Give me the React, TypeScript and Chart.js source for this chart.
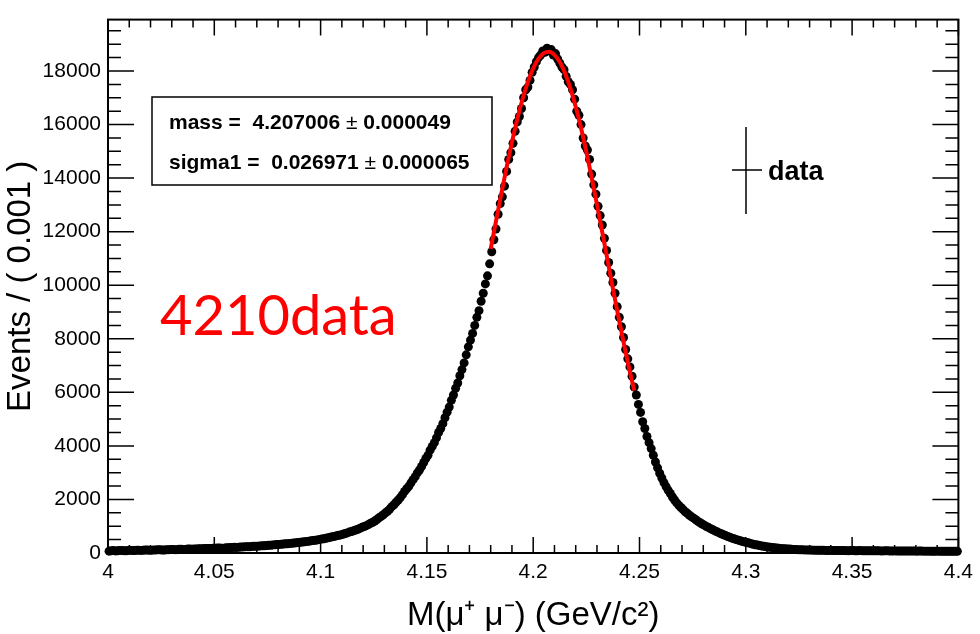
import React, { useEffect, useRef } from "react";
import { Chart, registerables } from "chart.js";

Chart.register(...registerables);

// ---- data (bin width 0.001, bin centres from 4.0005) ----
const BIN_START = 4.0005;
const BIN_WIDTH = 0.001;
const eventCounts = [
  70, 85, 90, 78, 80, 92, 95, 88, 85, 96,
  100, 92, 90, 101, 105, 98, 100, 108, 110, 104,
  105, 112, 115, 121, 120, 112, 110, 120, 125, 131,
  130, 124, 125, 136, 140, 133, 135, 146, 150, 142,
  145, 154, 155, 161, 160, 166, 165, 172, 170, 176,
  175, 184, 185, 178, 180, 192, 195, 203, 205, 212,
  210, 213, 220, 228, 230, 236, 235, 246, 250, 249,
  255, 266, 270, 272, 280, 288, 290, 301, 305, 315,
  320, 326, 335, 343, 345, 358, 365, 370, 380, 394,
  400, 408, 420, 433, 440, 455, 465, 475, 490, 508,
  520, 530, 550, 570, 585, 605, 620, 642, 660, 676,
  700, 728, 750, 780, 800, 832, 860, 885, 920, 958,
  990, 1020, 1060, 1110, 1150, 1195, 1250, 1315, 1370, 1430,
  1500, 1560, 1640, 1730, 1800, 1895, 1980, 2070, 2180, 2300,
  2400, 2490, 2620, 2740, 2850, 2990, 3100, 3230, 3380, 3530,
  3650, 3840, 3980, 4120, 4300, 4500, 4650, 4830, 5050, 5260,
  5450, 5700, 5900, 6150, 6350, 6620, 6850, 7100, 7400, 7700,
  7950, 8200, 8500, 8800, 9050, 9400, 9700, 10050, 10350, 10800,
  11250, 11700, 12100, 12650, 13050, 13300, 13700, 14250, 14700, 14950,
  15300, 15750, 16100, 16300, 16600, 17000, 17300, 17400, 17650, 17950,
  18150, 18350, 18500, 18600, 18750, 18700, 18850, 18750, 18800, 18600,
  18650, 18450, 18300, 18150, 18050, 17800, 17600, 17500, 17300, 16950,
  16500, 16350, 16000, 15500, 15200, 15050, 14700, 14150, 13750, 13400,
  12950, 12600, 12250, 11750, 11300, 10850, 10450, 10100, 9700, 9200,
  8800, 8450, 8050, 7600, 7250, 6950, 6600, 6200, 5900, 5550,
  5250, 4900, 4650, 4350, 4120, 3900, 3650, 3400, 3180, 2980,
  2800, 2630, 2480, 2340, 2220, 2090, 1980, 1870, 1780, 1700,
  1620, 1540, 1480, 1410, 1350, 1300, 1240, 1180, 1130, 1085,
  1040, 990, 950, 905, 870, 825, 790, 750, 720, 680,
  650, 615, 590, 555, 530, 500, 480, 455, 430, 410,
  390, 372, 350, 328, 310, 296, 280, 262, 250, 236,
  225, 214, 205, 196, 185, 178, 170, 160, 155, 150,
  145, 138, 135, 130, 125, 122, 120, 116, 115, 112,
  110, 106, 105, 101, 100, 103, 100, 96, 95, 97,
  98, 94, 92, 96, 95, 90, 90, 87, 88, 91,
  90, 86, 85, 89, 88, 84, 82, 86, 85, 81,
  80, 82, 83, 79, 78, 81, 80, 77, 76, 79,
  78, 75, 74, 76, 75, 72, 72, 74, 74, 71,
  70, 71, 72, 69, 68, 70, 70, 67, 66, 69,
  68, 66, 65, 67, 66, 64, 63, 65, 64, 62,
];

const FIT_START = 4.18;
const FIT_STEP = 0.0025;
const fitValues = [
  11354, 12391, 13413, 14414, 15347, 16200, 16956, 17595, 18100, 18461,
  18669, 18717, 18604, 18334, 17914, 17354, 16667, 15871, 14980, 14023,
  13012, 11973, 10924, 9877, 8855, 7872, 6937, 6063,
];

const X_MIN = 4.0;
const X_MAX = 4.4;
const Y_MIN = 0;
const Y_MAX = 19920;
const xMajorTicks = [4, 4.05, 4.1, 4.15, 4.2, 4.25, 4.3, 4.35, 4.4];
const xTickLabels = ["4", "4.05", "4.1", "4.15", "4.2", "4.25", "4.3", "4.35", "4.4"];
const yMajorTicks = [0, 2000, 4000, 6000, 8000, 10000, 12000, 14000, 16000, 18000];
const yTickLabels = ["0", "2000", "4000", "6000", "8000", "10000", "12000", "14000", "16000", "18000"];
const X_MINOR_STEP = 0.01;
const X_MINOR_PER_MAJOR = 5;
const Y_MINOR_STEP = 500;
const Y_MINOR_PER_MAJOR = 4;

const xTitle = "M(μ⁺ μ⁻) (GeV/c²)";
const yTitle = "Events / ( 0.001 )";
const statLines = ["mass =  4.207006 ± 0.000049", "sigma1 =  0.026971 ± 0.000065"];
const legendLabel = "data";
const overlayText = "4210data";

const FONT = "'Liberation Sans', Arial, Helvetica, sans-serif";

function drawStatLine(ctx: CanvasRenderingContext2D, text: string, x: number, y: number) {
  // bold text, with the ± sign in regular weight (as ROOT draws #pm)
  const parts = text.split("±");
  let cx = x;
  parts.forEach((part, i) => {
    if (i > 0) {
      ctx.font = `21px ${FONT}`;
      ctx.fillText("±", cx, y);
      cx += ctx.measureText("±").width;
    }
    ctx.font = `bold 21px ${FONT}`;
    ctx.fillText(part, cx, y);
    cx += ctx.measureText(part).width;
  });
}

const rootDecor = {
  id: "rootDecor",
  afterDraw(chart: any) {
    const { ctx, chartArea: a, scales } = chart;
    const xs = scales.x;
    const ys = scales.y;
    ctx.save();
    ctx.strokeStyle = "#000";
    ctx.fillStyle = "#000";

    // tick marks on all four sides (ROOT style, pointing inward)
    ctx.lineWidth = 1.5;
    ctx.beginPath();
    const nx = Math.round((X_MAX - X_MIN) / X_MINOR_STEP);
    for (let i = 0; i <= nx; i++) {
      const px = xs.getPixelForValue(X_MIN + i * X_MINOR_STEP);
      const len = i % X_MINOR_PER_MAJOR === 0 ? 16 : 8;
      ctx.moveTo(px, a.bottom);
      ctx.lineTo(px, a.bottom - len);
      ctx.moveTo(px, a.top);
      ctx.lineTo(px, a.top + len);
    }
    for (let i = 0; i * Y_MINOR_STEP <= Y_MAX; i++) {
      const py = ys.getPixelForValue(i * Y_MINOR_STEP);
      const len = i % Y_MINOR_PER_MAJOR === 0 ? 26 : 13;
      ctx.moveTo(a.left, py);
      ctx.lineTo(a.left + len, py);
      ctx.moveTo(a.right, py);
      ctx.lineTo(a.right - len, py);
    }
    ctx.stroke();

    // frame
    ctx.lineWidth = 2;
    ctx.strokeRect(a.left, a.top, a.right - a.left, a.bottom - a.top);

    // fit parameter box
    ctx.lineWidth = 1.5;
    ctx.strokeRect(152, 97, 340, 88);
    ctx.textAlign = "left";
    ctx.textBaseline = "alphabetic";
    drawStatLine(ctx, statLines[0], 169, 129);
    drawStatLine(ctx, statLines[1], 169, 169);

    // legend entry
    ctx.lineWidth = 1.5;
    ctx.beginPath();
    ctx.moveTo(746, 127);
    ctx.lineTo(746, 214);
    ctx.moveTo(732, 170);
    ctx.lineTo(762, 170);
    ctx.stroke();
    ctx.font = `bold 27px ${FONT}`;
    ctx.fillText(legendLabel, 768, 180);

    // red overlay label
    ctx.fillStyle = "#ff0000";
    ctx.font = `56px Lato, 'Open Sans', sans-serif`;
    ctx.fillText(overlayText, 160, 335);
    ctx.restore();
  },
};

export default function App() {
  const ref = useRef<HTMLCanvasElement>(null);

  useEffect(() => {
    document.body.style.margin = "0";
    const canvas = ref.current;
    if (!canvas) return;

    const dataPoints = eventCounts.map((v, i) => ({ x: BIN_START + i * BIN_WIDTH, y: v }));
    const fitPoints = fitValues.map((v, i) => ({ x: FIT_START + i * FIT_STEP, y: v }));

    const chart = new Chart(canvas, {
      type: "scatter",
      data: {
        datasets: [
          {
            type: "line",
            label: "fit",
            data: fitPoints,
            order: 0,
            borderColor: "#ff0000",
            borderWidth: 4,
            pointRadius: 0,
            showLine: true,
            fill: false,
            cubicInterpolationMode: "monotone",
          } as any,
          {
            type: "scatter",
            label: legendLabel,
            data: dataPoints,
            order: 1,
            pointRadius: 4.5,
            pointHoverRadius: 4.5,
            pointBackgroundColor: "#000",
            pointBorderWidth: 0,
            showLine: false,
            clip: false,
          } as any,
        ],
      },
      options: {
        animation: false,
        responsive: false,
        devicePixelRatio: 1,
        layout: { padding: { top: 8, right: 18, left: 0, bottom: 0 } },
        plugins: {
          legend: { display: false },
          tooltip: { enabled: false },
        },
        events: [],
        scales: {
          x: {
            type: "linear",
            min: X_MIN,
            max: X_MAX,
            grid: { display: false, drawTicks: false },
            border: { display: false },
            afterBuildTicks: (s: any) => {
              s.ticks = xMajorTicks.map((v) => ({ value: v }));
            },
            afterFit: (s: any) => {
              s.height = 81;
            },
            ticks: {
              autoSkip: false,
              maxRotation: 0,
              padding: 7,
              color: "#000",
              font: { family: FONT, size: 21 },
              callback: (v: any) => {
                const i = xMajorTicks.findIndex((t) => Math.abs(t - Number(v)) < 1e-9);
                return i >= 0 ? xTickLabels[i] : "";
              },
            },
            title: {
              display: true,
              text: xTitle,
              color: "#000",
              font: { family: FONT, size: 33, lineHeight: 1 },
              padding: { top: 0, bottom: 2 },
            },
          },
          y: {
            type: "linear",
            min: Y_MIN,
            max: Y_MAX,
            grid: { display: false, drawTicks: false },
            border: { display: false },
            afterBuildTicks: (s: any) => {
              s.ticks = yMajorTicks.map((v) => ({ value: v }));
            },
            afterFit: (s: any) => {
              s.width = 108;
            },
            ticks: {
              autoSkip: false,
              padding: 7,
              color: "#000",
              font: { family: FONT, size: 21 },
              callback: (v: any) => {
                const i = yMajorTicks.findIndex((t) => Math.abs(t - Number(v)) < 1e-9);
                return i >= 0 ? yTickLabels[i] : "";
              },
            },
            title: {
              display: true,
              text: yTitle,
              color: "#000",
              font: { family: FONT, size: 33, lineHeight: 1 },
              padding: { top: 4, bottom: 0 },
            },
          },
        },
      },
      plugins: [rootDecor],
    } as any);

    return () => chart.destroy();
  }, []);

  return (
    <canvas
      ref={ref}
      width={980}
      height={634}
      style={{ display: "block", width: 980, height: 634 }}
    />
  );
}
